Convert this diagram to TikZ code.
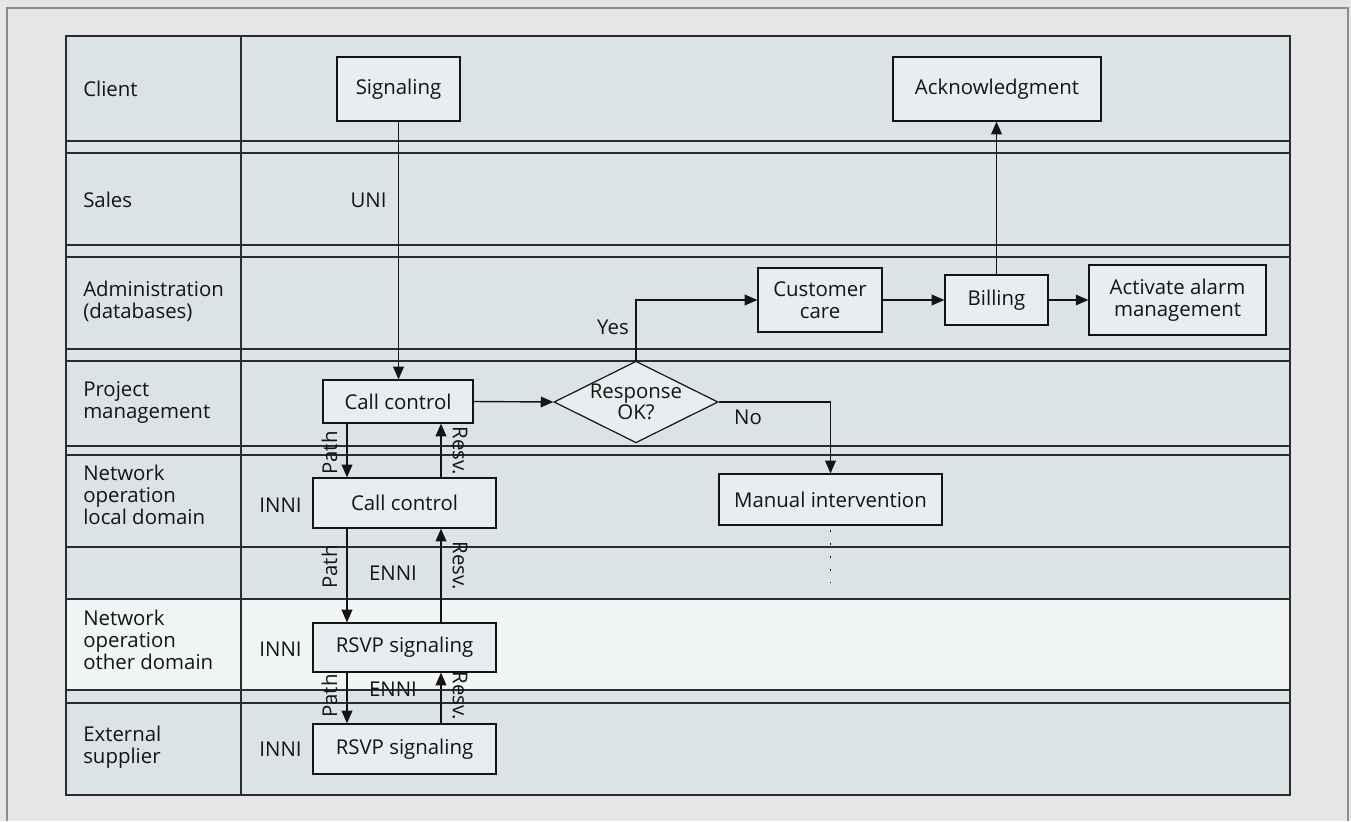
\documentclass[tikz,border=0pt]{standalone}
\usepackage{fontspec}
\setmainfont{Open Sans}
\usetikzlibrary{shapes.geometric,arrows.meta}
\definecolor{bg}{HTML}{E6E6E6}
\definecolor{frame}{HTML}{8C8C8C}
\definecolor{lane}{HTML}{DCE3E6}
\definecolor{lanelight}{HTML}{F1F5F6}
\definecolor{boxfill}{HTML}{E8EDEF}
\definecolor{ink}{HTML}{141414}
\tikzset{
  bx/.style 2 args={draw=ink, fill=boxfill, line width=0.9pt, inner sep=0pt,
    minimum width=#1*0.75pt, minimum height=#2*0.75pt, align=center, text=ink},
  lanelab/.style={anchor=west, align=left, text=ink, inner sep=0pt},
  lbl/.style={text=ink, inner sep=0pt},
  arr/.style={draw=ink, line width=1.05pt, -{Triangle[length=9.5pt,width=8pt]}},
  conn/.style={draw=ink, line width=1.05pt},
  grid/.style={draw=ink!90, line width=1.1pt},
}
\begin{document}
\begin{tikzpicture}[x=0.75pt,y=-0.75pt,font=\fontsize{15.3}{16.5}\selectfont]
\useasboundingbox (0,0) rectangle (1351,821);
\fill[bg] (0,0) rectangle (1351,821);
\draw[frame, line width=1.5pt] (7,821) -- (7,8) -- (1348,8) -- (1348,821);
% lanes
\fill[lane] (66,36) rectangle (1290,795);
\fill[lanelight] (66,599) rectangle (1290,690);
\foreach \yy in {141,153,245,257,349,361,446,455,547,599,690,703}
  \draw[grid] (66,\yy) -- (1290,\yy);
\draw[grid] (241,36) -- (241,795);
\draw[grid] (66,36) rectangle (1290,795);
% lane labels
\node[lanelab] (lclient) at (83,89) {Client};
\node[lanelab] (lsales) at (83,200) {Sales};
\node[lanelab] (ladmin) at (83,301) {Administration\\(databases)};
\node[lanelab] (lproj) at (83,402) {Project\\management};
\node[lanelab] (llocal) at (83,495) {Network\\operation\\local domain};
\node[lanelab] (lother) at (83,640) {Network\\operation\\other domain};
\node[lanelab] (lext) at (83,747) {External\\supplier};
% boxes
\node[bx={123}{64}] (sig) at (398.5,89) {Signaling};
\node[bx={208}{64}] (ack) at (997,89) {Acknowledgment};
\node[bx={124}{64}] (cust) at (820,300) {Customer\\care};
\node[bx={103}{50}] (bill) at (996.5,300) {Billing};
\node[bx={177}{70}] (alarm) at (1177.5,300) {Activate alarm\\management};
\node[bx={164}{80}, diamond, shape aspect=2, font=\fontsize{15.3}{15.5}\selectfont] (dia) at (636,402) {Response\\OK?};
\node[bx={150}{43}] (cc1) at (398,401.5) {Call control};
\node[bx={223}{51}] (man) at (830.5,499.5) {Manual intervention};
\node[bx={183}{50}] (cc2) at (404.5,503) {Call control};
\node[bx={183}{49}] (rs1) at (404.5,647.5) {RSVP signaling};
\node[bx={183}{50}] (rs2) at (404.5,749) {RSVP signaling};
% helper coordinates
\coordinate (px) at (347,0);
\coordinate (rx) at (441,0);
\coordinate (dotend) at (830.5,583);
% connectors
\draw[arr] (sig.south) -- (sig.south |- cc1.north);
\draw[arr] (cc1.east) -- (dia.west);
\draw[arr] (dia.north) |- (cust.west);
\draw[arr] (cust.east) -- (bill.west);
\draw[arr] (bill.east) -- (alarm.west);
\draw[arr] (bill.north) -- (bill.north |- ack.south);
\draw[arr] (dia.east) -| (man.north);
\draw[conn, line width=1.2pt, dash pattern=on 1.5pt off 8.3pt] ([yshift=-3pt]man.south) -- (dotend);
\draw[arr] (px |- cc1.south) -- (px |- cc2.north);
\draw[arr] (rx |- cc2.north) -- (rx |- cc1.south);
\draw[arr] (px |- cc2.south) -- (px |- rs1.north);
\draw[arr] (rx |- rs1.north) -- (rx |- cc2.south);
\draw[arr] (px |- rs1.south) -- (px |- rs2.north);
\draw[arr] (rx |- rs2.north) -- (rx |- rs1.south);
% labels
\node[lbl] (uni) at (368.5,200) {UNI};
\node[lbl] (yes) at (613,327) {Yes};
\node[lbl] (no) at (748,417) {No};
\node[lbl, rotate=90] (p1) at (329.5,453) {Path};
\node[lbl, rotate=-90] (r1) at (460,451) {Resv.};
\node[lbl, rotate=90] (p2) at (329.5,567) {Path};
\node[lbl, rotate=-90] (r2) at (460,566) {Resv.};
\node[lbl, rotate=90] (p3) at (329.5,696) {Path};
\node[lbl, rotate=-90] (r3) at (460,696) {Resv.};
\node[lbl] (e1) at (393,573) {ENNI};
\node[lbl] (e2) at (393,689) {ENNI};
\node[lbl] (i1) at (280.5,505) {INNI};
\node[lbl] (i2) at (280.5,649) {INNI};
\node[lbl] (i3) at (280.5,749) {INNI};
\end{tikzpicture}
\end{document}
